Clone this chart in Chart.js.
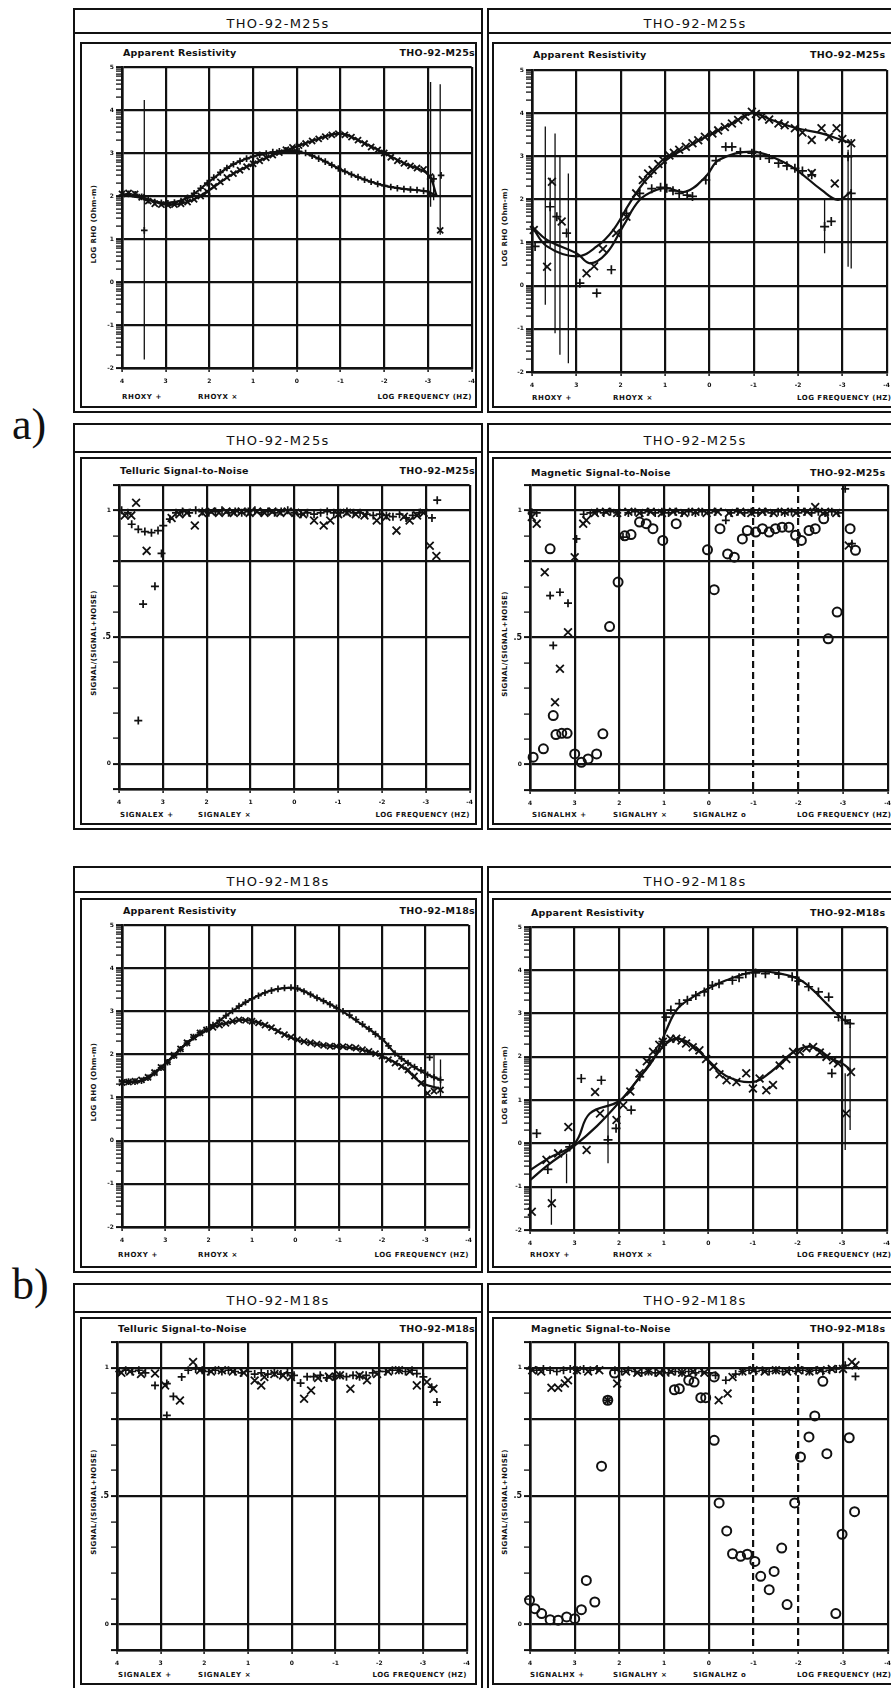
<!DOCTYPE html>
<html><head><meta charset="utf-8">
<script src="https://cdn.jsdelivr.net/npm/chart.js@4.4.1/dist/chart.umd.min.js"></script>
<style>
html,body{margin:0;padding:0;background:#fff;}
body{width:891px;height:1688px;overflow:hidden;position:relative;}
.bx{position:absolute;border:2px solid #111;box-sizing:border-box;}
.hl{position:absolute;height:2px;background:#111;}
.t{position:absolute;white-space:nowrap;color:#111;line-height:1;}
canvas{position:absolute;}
</style></head><body>
<script>
// ---------- tick values / labels ----------
const xTickVals = [4,3,2,1,0,-1,-2,-3,-4];
const rhoMajors = [-2,-1,0,1,2,3,4,5];
const rhoMinorOffsets = [0.301,0.477,0.602,0.699,0.778,0.845,0.903,0.954];
const snTickVals = [-0.1,0,0.1,0.2,0.3,0.4,0.5,0.6,0.7,0.8,0.9,1,1.1];
const snGrid = [-0.1,0,0.5,0.8,1,1.1];
const snLabels = [[1,'1'],[0.5,'.5'],[0,'0']];

// ---------- THO-92-M25s : apparent resistivity (left) ----------
const m25L_rhoxy = [[4.0,2.02],[3.85,2.05],[3.7,2.04],[3.55,1.98],[3.4,1.9],[3.25,1.86],[3.1,1.84],[2.95,1.83],[2.8,1.85],[2.65,1.88],[2.5,1.96],[2.35,2.06],[2.2,2.18],[2.05,2.3],[1.9,2.43],[1.75,2.55],[1.6,2.65],[1.45,2.74],[1.3,2.81],[1.15,2.87],[1.0,2.92],[0.85,2.96],[0.7,2.99],[0.55,3.02],[0.4,3.04],[0.25,3.06],[0.1,3.06],[-0.05,3.04],[-0.2,3.0],[-0.35,2.94],[-0.5,2.87],[-0.65,2.8],[-0.8,2.72],[-0.95,2.64],[-1.1,2.57],[-1.25,2.5],[-1.4,2.44],[-1.55,2.38],[-1.7,2.33],[-1.85,2.28],[-2.0,2.24],[-2.15,2.21],[-2.3,2.18],[-2.45,2.16],[-2.6,2.15],[-2.75,2.14],[-2.9,2.12],[-3.05,2.05],[-3.13,2.4],[-3.3,2.48],[3.49,1.2]];
const m25L_rhoyx = [[4.0,2.05],[3.85,2.07],[3.7,2.05],[3.55,1.97],[3.4,1.88],[3.25,1.82],[3.1,1.8],[2.95,1.79],[2.8,1.8],[2.65,1.82],[2.5,1.86],[2.35,1.92],[2.2,2.0],[2.05,2.1],[1.9,2.22],[1.75,2.33],[1.6,2.43],[1.45,2.52],[1.3,2.6],[1.15,2.68],[1.0,2.75],[0.85,2.82],[0.7,2.89],[0.55,2.95],[0.4,3.01],[0.25,3.08],[0.1,3.13],[-0.05,3.17],[-0.2,3.22],[-0.35,3.28],[-0.5,3.33],[-0.65,3.38],[-0.8,3.42],[-0.95,3.45],[-1.1,3.42],[-1.25,3.37],[-1.4,3.3],[-1.55,3.22],[-1.7,3.14],[-1.85,3.07],[-2.0,3.0],[-2.15,2.9],[-2.3,2.82],[-2.45,2.76],[-2.6,2.7],[-2.75,2.65],[-2.9,2.62],[-3.05,2.45],[-3.28,1.2]];
const m25L_modelxy = [[4,2.03],[3.5,1.95],[3.0,1.84],[2.5,1.96],[2.0,2.34],[1.5,2.71],[1.0,2.92],[0.5,3.02],[0.0,3.04],[-0.5,2.87],[-1.0,2.62],[-1.5,2.4],[-2.0,2.24],[-2.5,2.16],[-3.0,2.1],[-3.2,2.0]];
const m25L_modelyx = [[4,2.05],[3.5,1.95],[3.0,1.8],[2.5,1.86],[2.0,2.14],[1.5,2.49],[1.0,2.75],[0.5,2.97],[0.0,3.15],[-0.5,3.33],[-1.0,3.45],[-1.5,3.25],[-2.0,3.0],[-2.5,2.74],[-3.0,2.5],[-3.2,2.0]];
const m25L_err = [[3.49,-1.8,4.23],[-3.06,1.75,4.65],[-3.28,1.1,4.6],[-3.13,1.9,2.5]];

// ---------- THO-92-M25s : apparent resistivity (right) ----------
const m25R_rhoyx = [[3.96,1.29],[3.66,0.44],[3.55,2.41],[3.33,1.49],[2.77,0.29],[2.6,0.45],[2.4,0.85],[2.1,1.22],[1.87,1.6],[1.65,2.14],[1.5,2.45],[1.38,2.6],[1.28,2.68],[1.15,2.82],[1.05,2.92],[0.9,3.02],[0.8,3.08],[0.68,3.15],[0.53,3.22],[0.38,3.3],[0.25,3.37],[0.1,3.45],[-0.07,3.53],[-0.2,3.6],[-0.35,3.68],[-0.51,3.76],[-0.65,3.84],[-0.81,3.92],[-0.96,4.03],[-1.05,3.98],[-1.19,3.92],[-1.35,3.85],[-1.56,3.76],[-1.7,3.72],[-1.93,3.65],[-2.1,3.55],[-2.31,3.38],[-2.53,3.65],[-2.7,3.45],[-2.87,3.65],[-3.0,3.4],[-3.2,3.3],[-2.83,2.37],[-2.31,2.61]];
const m25R_rhoxy = [[3.93,0.91],[3.59,1.83],[3.44,1.6],[3.22,1.22],[2.92,0.06],[2.54,-0.17],[2.21,0.37],[1.87,1.68],[1.57,2.14],[1.3,2.25],[1.1,2.28],[0.96,2.26],[0.82,2.2],[0.68,2.14],[0.5,2.1],[0.38,2.07],[0.08,2.45],[-0.15,2.9],[-0.37,3.22],[-0.51,3.22],[-0.7,3.1],[-0.96,3.07],[-1.15,3.02],[-1.35,2.95],[-1.56,2.84],[-1.75,2.78],[-1.93,2.72],[-2.1,2.66],[-2.31,2.57],[-2.6,1.37],[-2.75,1.49],[-3.13,2.99],[-3.2,2.14]];
const m25R_modelyx = [[4,1.37],[3.66,0.91],[2.99,0.68],[2.54,0.91],[2.17,1.29],[1.8,1.91],[1.43,2.45],[0.96,2.92],[0.53,3.19],[0.01,3.49],[-0.51,3.76],[-0.96,4.0],[-1.41,3.84],[-1.97,3.65],[-2.53,3.53],[-2.98,3.38],[-3.2,3.3]];
const m25R_modelxy = [[4,1.37],[3.66,1.06],[2.99,0.75],[2.69,0.52],[2.32,0.75],[1.95,1.37],[1.57,1.99],[1.2,2.22],[0.96,2.26],[0.53,2.18],[0.08,2.53],[-0.22,2.92],[-0.96,3.11],[-1.56,2.92],[-1.97,2.68],[-2.53,2.22],[-2.9,1.99],[-3.2,2.18]];
const m25R_err = [[3.7,-0.44,3.69],[3.59,0.9,2.5],[3.48,-1.1,3.53],[3.37,-1.6,3.0],[3.18,-1.8,2.6],[3.0,-2.0,5.0],[-2.6,0.75,1.99],[-3.13,0.44,3.15],[-3.2,0.4,3.4]];

// ---------- THO-92-M25s : telluric signal-to-noise ----------
const m25_sigEx = [[3.94,1.0],[3.8,0.99],[3.71,0.945],[3.56,0.925],[3.41,0.916],[3.26,0.912],[3.11,0.92],[2.99,0.94],[2.84,0.965],[2.7,0.99],[2.55,0.995],[2.4,0.99],[2.25,1.0],[2.1,0.995],[1.95,0.99],[1.8,0.995],[1.65,1.0],[1.5,0.99],[1.35,0.995],[1.2,0.99],[1.05,0.995],[0.9,1.0],[0.75,0.99],[0.6,0.995],[0.45,0.99],[0.3,0.995],[0.15,1.0],[0.0,0.99],[-0.15,0.985],[-0.3,0.99],[-0.45,0.985],[-0.6,0.99],[-0.75,0.995],[-0.9,0.99],[-1.05,0.99],[-1.2,0.995],[-1.35,0.99],[-1.5,0.99],[-1.65,0.985],[-1.8,0.98],[-1.95,0.985],[-2.1,0.98],[-2.25,0.975],[-2.4,0.985],[-2.55,0.97],[-2.7,0.98],[-2.85,0.99],[-3.0,1.0],[-3.14,0.97],[-3.26,1.04],[3.03,0.83],[3.18,0.70],[3.45,0.63],[3.56,0.17]];
const m25_sigEy = [[3.87,0.98],[3.72,0.98],[3.61,1.03],[3.37,0.84],[2.8,0.97],[2.62,0.985],[2.45,0.99],[2.27,0.94],[2.1,0.99],[1.9,0.995],[1.72,0.99],[1.55,0.995],[1.38,0.99],[1.2,0.995],[1.02,0.99],[0.85,0.995],[0.68,0.99],[0.5,0.995],[0.32,0.99],[0.15,0.995],[-0.02,0.99],[-0.2,0.985],[-0.45,0.96],[-0.67,0.94],[-0.82,0.96],[-1.0,0.985],[-1.2,0.99],[-1.4,0.985],[-1.6,0.98],[-1.88,0.96],[-2.1,0.975],[-2.33,0.92],[-2.5,0.975],[-2.63,0.96],[-2.8,0.98],[-2.95,0.99],[-3.09,0.86],[-3.24,0.82]];

// ---------- THO-92-M25s : magnetic signal-to-noise ----------
const m25_sigHx = [[3.96,0.993],[3.85,0.99],[3.55,0.665],[3.33,0.678],[3.15,0.635],[3.48,0.469],[2.96,0.888],[2.8,0.985],[2.65,0.99],[2.5,0.995],[2.35,0.99],[2.2,0.995],[2.05,0.99],[1.92,0.895],[1.8,0.99],[1.65,0.995],[1.5,0.99],[1.35,0.995],[1.2,0.99],[1.05,0.995],[0.9,0.99],[0.75,0.995],[0.6,0.99],[0.45,0.995],[0.3,0.99],[0.15,0.995],[0.0,0.99],[-0.15,0.995],[-0.38,0.961],[-0.5,0.99],[-0.65,0.995],[-0.8,0.99],[-0.95,0.995],[-1.1,0.99],[-1.25,0.995],[-1.4,0.99],[-1.55,0.995],[-1.7,0.99],[-1.85,0.995],[-2.0,0.99],[-2.15,0.995],[-2.3,0.99],[-2.45,0.995],[-2.6,0.99],[-2.75,0.995],[-2.9,0.99],[-3.05,1.085],[-3.2,0.869]];
const m25_sigHy = [[3.96,0.974],[3.85,0.948],[3.67,0.757],[3.44,0.245],[3.33,0.377],[3.15,0.521],[3.0,0.816],[2.81,0.948],[2.74,0.961],[2.55,0.99],[2.3,0.995],[2.05,0.99],[1.8,0.995],[1.55,0.99],[1.3,0.995],[1.05,0.99],[0.8,0.995],[0.55,0.99],[0.3,0.995],[0.05,0.99],[-0.2,0.995],[-0.45,0.99],[-0.7,0.995],[-0.95,0.99],[-1.2,0.995],[-1.45,0.99],[-1.7,0.995],[-1.95,0.99],[-2.2,0.995],[-2.38,1.013],[-2.6,0.995],[-2.85,0.99],[-3.13,0.862]];
const m25_sigHz = [[3.55,0.849],[2.03,0.718],[2.22,0.543],[1.88,0.90],[1.74,0.905],[1.55,0.954],[1.40,0.948],[1.25,0.928],[1.03,0.882],[0.73,0.948],[0.03,0.845],[-0.12,0.688],[-0.25,0.928],[-0.42,0.829],[-0.57,0.816],[-0.75,0.888],[-0.86,0.921],[-1.05,0.915],[-1.2,0.928],[-1.35,0.915],[-1.49,0.928],[-1.64,0.934],[-1.79,0.934],[-1.94,0.902],[-2.07,0.882],[-2.24,0.921],[-2.38,0.928],[-2.57,0.967],[-2.67,0.495],[-2.87,0.6],[-3.16,0.928],[-3.28,0.843],[3.93,0.029],[3.70,0.062],[3.48,0.193],[3.42,0.118],[3.29,0.123],[3.17,0.123],[3.0,0.042],[2.85,0.009],[2.70,0.022],[2.51,0.042],[2.37,0.121]];

// ---------- THO-92-M18s : apparent resistivity (left) ----------
const m18L_rhoxy = [[4.0,1.37],[3.85,1.37],[3.7,1.37],[3.55,1.39],[3.4,1.46],[3.25,1.57],[3.1,1.69],[2.95,1.82],[2.8,1.97],[2.65,2.12],[2.5,2.26],[2.35,2.4],[2.2,2.5],[2.05,2.58],[1.9,2.68],[1.75,2.79],[1.6,2.9],[1.45,3.01],[1.3,3.12],[1.15,3.21],[1.0,3.29],[0.85,3.36],[0.7,3.43],[0.55,3.48],[0.4,3.52],[0.25,3.54],[0.1,3.55],[-0.05,3.53],[-0.2,3.46],[-0.35,3.39],[-0.5,3.31],[-0.65,3.24],[-0.8,3.16],[-0.95,3.08],[-1.1,3.0],[-1.25,2.91],[-1.4,2.81],[-1.55,2.7],[-1.7,2.59],[-1.85,2.47],[-2.0,2.36],[-2.15,2.2],[-2.3,2.02],[-2.45,1.9],[-2.6,1.8],[-2.75,1.71],[-2.9,1.63],[-3.05,1.53],[-3.2,1.47],[-3.35,1.41],[-3.1,1.93]];
const m18L_rhoyx = [[4.0,1.35],[3.85,1.36],[3.7,1.38],[3.55,1.41],[3.4,1.47],[3.25,1.58],[3.1,1.7],[2.95,1.83],[2.8,1.98],[2.65,2.13],[2.5,2.27],[2.35,2.4],[2.2,2.5],[2.05,2.57],[1.9,2.63],[1.75,2.68],[1.6,2.72],[1.45,2.77],[1.3,2.8],[1.15,2.79],[1.0,2.77],[0.85,2.73],[0.7,2.68],[0.55,2.62],[0.4,2.54],[0.25,2.46],[0.1,2.4],[-0.05,2.34],[-0.2,2.3],[-0.35,2.27],[-0.5,2.24],[-0.65,2.21],[-0.8,2.19],[-0.95,2.19],[-1.1,2.18],[-1.25,2.17],[-1.4,2.15],[-1.55,2.11],[-1.7,2.07],[-1.85,2.02],[-2.0,1.96],[-2.15,1.88],[-2.3,1.8],[-2.45,1.72],[-2.6,1.64],[-2.75,1.5],[-2.9,1.33],[-3.05,1.1],[-3.2,1.15],[-3.35,1.18]];
const m18L_modelxy = [[4,1.37],[3.5,1.4],[3.0,1.78],[2.5,2.26],[2.0,2.6],[1.5,2.97],[1.0,3.29],[0.5,3.5],[0.0,3.53],[-0.5,3.31],[-1.0,3.05],[-1.5,2.72],[-2.0,2.36],[-2.3,2.03],[-2.6,1.8],[-3.0,1.56],[-3.35,1.41]];
const m18L_modelyx = [[4,1.35],[3.5,1.42],[3.0,1.79],[2.5,2.27],[2.0,2.59],[1.5,2.75],[1.2,2.8],[0.8,2.72],[0.4,2.54],[0.0,2.35],[-0.5,2.24],[-1.0,2.18],[-1.5,2.12],[-2.0,1.96],[-2.5,1.7],[-2.9,1.35],[-3.35,1.2]];
const m18L_err = [[-3.2,1.18,1.99],[-3.35,1.03,1.88]];

// ---------- THO-92-M18s : apparent resistivity (right) ----------
const m18R_rhoxy = [[3.85,0.23],[3.6,-0.6],[3.11,-0.08],[2.85,1.5],[2.4,1.46],[2.25,0.08],[2.07,0.35],[1.73,0.77],[1.54,1.54],[1.32,1.92],[1.17,2.12],[1.02,2.35],[0.95,2.92],[0.84,3.08],[0.65,3.23],[0.47,3.31],[0.28,3.42],[0.09,3.5],[-0.09,3.65],[-0.24,3.69],[-0.54,3.77],[-0.69,3.83],[-0.84,3.92],[-1.06,3.94],[-1.28,3.92],[-1.58,3.91],[-1.88,3.85],[-2.03,3.75],[-2.25,3.62],[-2.47,3.5],[-2.7,3.38],[-2.92,2.92],[-3.07,2.85],[-3.18,2.77],[-2.77,1.62]];
const m18R_rhoyx = [[3.96,-1.58],[3.63,-0.38],[3.51,-1.38],[3.37,-0.23],[3.14,0.38],[2.73,-0.15],[2.54,1.19],[2.43,0.69],[2.06,0.54],[1.91,0.88],[1.75,1.2],[1.54,1.62],[1.38,1.9],[1.24,2.12],[1.1,2.28],[1.02,2.35],[0.85,2.42],[0.72,2.42],[0.6,2.38],[0.5,2.31],[0.35,2.22],[0.2,2.15],[0.05,1.95],[-0.11,1.77],[-0.25,1.6],[-0.41,1.46],[-0.63,1.42],[-0.85,1.62],[-1.0,1.27],[-1.15,1.5],[-1.3,1.23],[-1.45,1.35],[-1.6,1.8],[-1.75,1.95],[-1.9,2.12],[-2.05,2.12],[-2.2,2.2],[-2.35,2.23],[-2.5,2.1],[-2.65,2.0],[-2.8,1.92],[-2.91,1.85],[-3.09,0.69],[-3.2,1.65]];
const m18R_modelxy = [[4,-0.62],[3.6,-0.35],[3.0,0.0],[2.66,0.69],[2.0,0.98],[1.6,1.45],[1.2,2.0],[0.95,2.6],[0.7,3.1],[0.35,3.38],[0.0,3.58],[-0.4,3.77],[-1.0,3.96],[-1.4,3.96],[-2.0,3.81],[-2.35,3.54],[-2.65,3.23],[-3.0,2.88],[-3.2,2.77]];
const m18R_modelyx = [[4,-0.85],[3.6,-0.5],[3.0,-0.05],[2.5,0.4],[2.0,0.95],[1.6,1.45],[1.2,2.0],[0.95,2.3],[0.72,2.42],[0.4,2.3],[0.0,1.92],[-0.4,1.56],[-1.0,1.42],[-1.4,1.65],[-1.9,2.1],[-2.33,2.23],[-2.77,1.95],[-3.0,1.85],[-3.2,1.69]];
const m18R_err = [[-3.07,-0.15,1.62],[-3.18,0.31,2.69],[2.25,-0.46,1.0],[3.18,-0.92,-0.23],[3.52,-1.88,-1.04]];

// ---------- THO-92-M18s : telluric signal-to-noise ----------
const m18_sigEx = [[3.95,0.985],[3.8,0.99],[3.65,0.985],[3.5,0.99],[3.35,0.98],[3.13,0.931],[2.86,0.938],[2.71,0.888],[2.86,0.814],[2.52,0.964],[2.37,0.99],[2.2,0.995],[2.05,0.99],[1.9,0.985],[1.75,0.99],[1.6,0.985],[1.45,0.99],[1.3,0.985],[1.15,0.98],[1.0,0.985],[0.85,0.975],[0.7,0.98],[0.55,0.975],[0.4,0.98],[0.25,0.975],[0.1,0.98],[-0.05,0.97],[-0.2,0.94],[-0.35,0.965],[-0.5,0.965],[-0.65,0.97],[-0.8,0.96],[-0.95,0.965],[-1.1,0.97],[-1.25,0.965],[-1.4,0.97],[-1.55,0.965],[-1.7,0.97],[-1.85,0.98],[-2.0,0.985],[-2.15,0.985],[-2.3,0.99],[-2.45,0.99],[-2.6,0.985],[-2.75,0.99],[-2.86,0.977],[-3.01,0.964],[-3.2,0.924],[-3.32,0.866]];
const m18_sigEy = [[3.9,0.98],[3.7,0.985],[3.45,0.975],[3.13,0.977],[2.9,0.931],[2.56,0.872],[2.26,1.022],[2.1,0.99],[1.85,0.985],[1.6,0.99],[1.35,0.985],[1.1,0.98],[0.85,0.95],[0.7,0.931],[0.63,0.964],[0.4,0.975],[0.2,0.97],[0.02,0.964],[-0.28,0.879],[-0.44,0.911],[-0.6,0.96],[-0.85,0.965],[-1.1,0.97],[-1.34,0.918],[-1.55,0.97],[-1.72,0.951],[-1.95,0.975],[-2.2,0.985],[-2.45,0.99],[-2.7,0.985],[-2.86,0.931],[-3.09,0.944],[-3.24,0.918]];

// ---------- THO-92-M18s : magnetic signal-to-noise ----------
const m18_sigHx = [[4.0,0.995],[3.85,0.99],[3.7,0.995],[3.55,0.99],[3.4,0.985],[3.25,0.99],[3.1,0.995],[2.95,0.99],[2.8,0.995],[2.65,0.99],[2.5,0.995],[2.26,0.873],[2.1,0.99],[1.95,0.985],[1.8,0.99],[1.65,0.985],[1.5,0.98],[1.35,0.985],[1.2,0.98],[1.05,0.985],[0.9,0.98],[0.75,0.985],[0.6,0.98],[0.45,0.985],[0.3,0.98],[0.15,0.985],[0.0,0.98],[-0.15,0.97],[-0.38,0.951],[-0.6,0.975],[-0.75,0.985],[-0.9,0.99],[-1.05,0.985],[-1.2,0.99],[-1.35,0.985],[-1.5,0.99],[-1.65,0.985],[-1.8,0.99],[-1.95,0.985],[-2.1,0.99],[-2.25,0.985],[-2.4,0.99],[-2.55,0.985],[-2.7,0.99],[-2.85,0.995],[-3.05,1.009],[-3.28,0.966]];
const m18_sigHy = [[3.95,0.99],[3.75,0.985],[3.52,0.922],[3.37,0.922],[3.22,0.938],[3.15,0.951],[2.95,0.99],[2.7,0.985],[2.45,0.99],[2.26,0.873],[2.05,0.938],[1.85,0.985],[1.6,0.98],[1.35,0.985],[1.1,0.98],[0.85,0.985],[0.6,0.98],[0.35,0.985],[0.1,0.98],[-0.22,0.873],[-0.42,0.899],[-0.53,0.964],[-0.75,0.985],[-1.0,0.99],[-1.25,0.985],[-1.5,0.99],[-1.75,0.985],[-2.0,0.99],[-2.25,0.985],[-2.5,0.99],[-2.75,0.995],[-3.0,0.995],[-3.2,1.022],[-3.28,1.009]];
const m18_sigHz = [[4.01,0.094],[3.89,0.061],[3.74,0.042],[3.55,0.018],[3.37,0.016],[3.18,0.029],[3.0,0.022],[2.85,0.057],[2.74,0.171],[2.55,0.087],[2.4,0.616],[2.26,0.873],[2.11,0.979],[0.77,0.914],[0.66,0.918],[0.45,0.951],[0.33,0.944],[0.18,0.883],[0.07,0.883],[-0.12,0.964],[-0.12,0.717],[-0.23,0.473],[-0.4,0.364],[-0.53,0.275],[-0.71,0.265],[-0.86,0.273],[-1.03,0.245],[-1.16,0.187],[-1.35,0.135],[-1.46,0.206],[-1.63,0.297],[-1.75,0.077],[-1.92,0.473],[-2.05,0.652],[-2.24,0.73],[-2.37,0.812],[-2.55,0.947],[-2.64,0.665],[-2.84,0.042],[-2.98,0.351],[-3.14,0.727],[-3.26,0.439]];

// ---------- helpers ----------
const INK = '#111111';
const P = a => a.map(([x,y]) => ({x, y}));
const EB = a => a.flatMap(([x,lo,hi]) => [{x,y:lo},{x,y:hi},{x,y:null}]);
const plus = (d,r) => ({type:'scatter', data:P(d), pointStyle:'cross', pointRadius:r, borderColor:INK, borderWidth:1.7, backgroundColor:'rgba(0,0,0,0)'});
const cross = (d,r) => ({type:'scatter', data:P(d), pointStyle:'crossRot', pointRadius:r, borderColor:INK, borderWidth:1.8, backgroundColor:'rgba(0,0,0,0)'});
const ring = (d,r) => ({type:'scatter', data:P(d), pointStyle:'circle', pointRadius:r, borderColor:INK, borderWidth:2, backgroundColor:'rgba(0,0,0,0)'});
const model = d => ({type:'line', data:P(d), borderColor:INK, borderWidth:2.2, pointRadius:0, tension:0.4, fill:false});
const errs = d => ({type:'line', data:EB(d), borderColor:INK, borderWidth:1.3, pointRadius:0, spanGaps:false, fill:false});

const panels = [
 {outer:[73,8,483,413], bar:33, inner:[80,42,477,408], plot:[122,67,473,368], kind:'rho', st:'THO-92-M25s', head:'Apparent Resistivity', headY:52, side:'L', legY:397,
  leg:[['RHOXY +',122],['RHOYX \u00d7',198]],
  sets:[model(m25L_modelxy), model(m25L_modelyx), errs(m25L_err), plus(m25L_rhoxy,3.3), cross(m25L_rhoyx,4.3)]},
 {outer:[487,8,905,413], bar:33, inner:[492,42,899,408], plot:[532,70,888,372], kind:'rho', st:'THO-92-M25s', head:'Apparent Resistivity', headY:54, side:'R', legY:398,
  leg:[['RHOXY +',532],['RHOYX \u00d7',613]],
  sets:[model(m25R_modelxy), model(m25R_modelyx), errs(m25R_err), plus(m25R_rhoxy,4.5), cross(m25R_rhoyx,5.5)]},
 {outer:[73,423,483,830], bar:452, inner:[80,457,477,825], plot:[119,485,471,789], kind:'sn', st:'THO-92-M25s', head:'Telluric Signal-to-Noise', headY:470, side:'L', legY:815,
  leg:[['SIGNALEX +',120],['SIGNALEY \u00d7',198]],
  sets:[plus(m25_sigEx,4), cross(m25_sigEy,5.5)]},
 {outer:[487,423,905,830], bar:452, inner:[492,457,899,825], plot:[530,485,889,790], kind:'sn', st:'THO-92-M25s', head:'Magnetic Signal-to-Noise', headY:472, side:'R', legY:815, dashX:[-1,-2],
  leg:[['SIGNALHX +',532],['SIGNALHY \u00d7',613],['SIGNALHZ o',693]],
  sets:[ring(m25_sigHz,4.5), plus(m25_sigHx,4), cross(m25_sigHy,5.5)]},
 {outer:[73,866,483,1273], bar:892, inner:[80,898,477,1268], plot:[122,925,470,1227], kind:'rho', st:'THO-92-M18s', head:'Apparent Resistivity', headY:910, side:'L', legY:1255,
  leg:[['RHOXY +',118],['RHOYX \u00d7',198]],
  sets:[model(m18L_modelxy), model(m18L_modelyx), errs(m18L_err), plus(m18L_rhoxy,3.3), cross(m18L_rhoyx,4.3)]},
 {outer:[487,866,905,1273], bar:892, inner:[492,898,899,1268], plot:[530,927,888,1230], kind:'rho', st:'THO-92-M18s', head:'Apparent Resistivity', headY:912, side:'R', legY:1255,
  leg:[['RHOXY +',530],['RHOYX \u00d7',613]],
  sets:[model(m18R_modelxy), model(m18R_modelyx), errs(m18R_err), plus(m18R_rhoxy,4.5), cross(m18R_rhoyx,5.5)]},
 {outer:[73,1283,483,1694], bar:1312, inner:[80,1317,477,1685], plot:[117,1342,468,1650], kind:'sn', st:'THO-92-M18s', head:'Telluric Signal-to-Noise', headY:1328, side:'L', legY:1675,
  leg:[['SIGNALEX +',118],['SIGNALEY \u00d7',198]],
  sets:[plus(m18_sigEx,4), cross(m18_sigEy,5.5)]},
 {outer:[487,1283,905,1694], bar:1312, inner:[492,1317,899,1685], plot:[530,1342,889,1650], kind:'sn', st:'THO-92-M18s', head:'Magnetic Signal-to-Noise', headY:1328, side:'R', legY:1675, dashX:[-1,-2],
  leg:[['SIGNALHX +',530],['SIGNALHY \u00d7',613],['SIGNALHZ o',693]],
  sets:[ring(m18_sigHz,4.5), plus(m18_sigHx,4), cross(m18_sigHy,5.5)]}
];

// ---------- drawing ----------
function box([l,t,r,b]) {
  const d = document.createElement('div'); d.className = 'bx';
  Object.assign(d.style, {left:l+'px', top:t+'px', width:(r-l)+'px', height:(b-t)+'px'});
  document.body.appendChild(d);
}
function hline(l, r, y) {
  const d = document.createElement('div'); d.className = 'hl';
  Object.assign(d.style, {left:l+'px', top:(y-1)+'px', width:(r-l)+'px'});
  document.body.appendChild(d);
}
function txt(s, x, y, font, align, ls, rot) {
  const d = document.createElement('div'); d.className = 't';
  d.textContent = s;
  d.style.left = x + 'px'; d.style.top = y + 'px';
  d.style.font = font;
  if (ls) d.style.letterSpacing = ls;
  const tx = align === 'center' ? '-50%' : align === 'right' ? '-100%' : '0';
  d.style.transform = `translate(${tx},-50%)` + (rot ? ' rotate(-90deg)' : '');
  document.body.appendChild(d);
}
const near = (a, b) => Math.abs(a - b) < 1e-6;
const rhoTickVals = rhoMajors.concat(rhoMajors.slice(0, -1).flatMap(m => rhoMinorOffsets.map(o => m + o)));

const AXW = 34, PT = 8, PR = 8, AXH = 24;
Chart.defaults.font.family = 'DejaVu Sans';

panels.forEach(p => {
  box(p.outer); box(p.inner); hline(p.outer[0], p.outer[2], p.bar);
  const tcx = p.side === 'L' ? 278 : 695;
  txt(p.st, tcx, (p.outer[1] + p.bar) / 2 + 2, '13px "DejaVu Sans"', 'center', '1.3px');
  txt(p.head, p.plot[0] + 1, p.headY, 'bold 9.5px "DejaVu Sans"', 'left', '0.2px');
  if (p.side === 'L') txt(p.st, 475, p.headY, 'bold 9.5px "DejaVu Sans"', 'right', '0.3px');
  else txt(p.st, 810, p.headY, 'bold 9.5px "DejaVu Sans"', 'left', '0.3px');
  p.leg.forEach(([s, x]) => txt(s, x, p.legY, 'bold 7px "DejaVu Sans"', 'left', '0.6px'));
  if (p.side === 'L') txt('LOG FREQUENCY (HZ)', p.plot[2] - 1, p.legY, 'bold 7px "DejaVu Sans"', 'right', '0.5px');
  else txt('LOG FREQUENCY (HZ)', 797, p.legY, 'bold 7px "DejaVu Sans"', 'left', '0.5px');
  const ytx = p.side === 'L' ? 94 : 505;
  const ymid = (p.plot[1] + p.plot[3]) / 2 + 6;
  txt(p.kind === 'rho' ? 'LOG RHO (Ohm-m)' : 'SIGNAL/(SIGNAL+NOISE)', ytx, ymid, 'bold 7px "DejaVu Sans"', 'center', '0.4px', true);

  const [L, T, R, B] = p.plot;
  const W = R - L, H = B - T;
  const cv = document.createElement('canvas');
  const cw = W + AXW + PR, ch = H + PT + AXH;
  cv.width = cw; cv.height = ch;
  Object.assign(cv.style, {left:(L - AXW)+'px', top:(T - PT)+'px', width:cw+'px', height:ch+'px'});
  document.body.appendChild(cv);

  const isRho = p.kind === 'rho';
  const yVals = isRho ? rhoTickVals : snTickVals;
  const yGrid = v => isRho ? near(v, Math.round(v)) : snGrid.some(g => near(g, v));
  const yLab = v => {
    if (isRho) return near(v, Math.round(v)) ? String(Math.round(v)) : '';
    const f = snLabels.find(l => near(l[0], v)); return f ? f[1] : '';
  };

  new Chart(cv, {
    type: 'scatter',
    data: {datasets: p.sets.map(s => Object.assign({clip: false}, s))},
    options: {
      responsive: false, animation: false, devicePixelRatio: 1, events: [],
      layout: {padding: {left: 0, top: PT, right: PR, bottom: 0}, autoPadding: false},
      plugins: {legend: {display: false}, tooltip: {enabled: false}},
      scales: {
        x: {
          type: 'linear', reverse: true, min: -4, max: 4,
          afterFit: s => { s.height = AXH; },
          afterBuildTicks: s => { s.ticks = xTickVals.map(v => ({value: v})); },
          ticks: {autoSkip: false, maxRotation: 0, padding: 6, color: INK, font: {size: 6, weight: 'bold'}, callback: v => String(v)},
          grid: {color: INK, lineWidth: 2.2, tickLength: 4, tickColor: INK, tickWidth: 1.5},
          border: {display: true, color: INK, width: 2.6,
                   dash: c => (p.dashX && c.tick && p.dashX.some(d => near(d, c.tick.value))) ? [7, 4] : []}
        },
        y: {
          type: 'linear', min: isRho ? -2 : -0.1, max: isRho ? 5 : 1.1,
          afterFit: s => { s.width = AXW; },
          afterBuildTicks: s => { s.ticks = yVals.map(v => ({value: v})); },
          ticks: {autoSkip: false, padding: 2, color: INK, font: c => ({size: (!isRho && c.tick && near(c.tick.value, 0.5)) ? 8 : 6, weight: 'bold'}), callback: v => yLab(v)},
          grid: {color: c => (c.tick && yGrid(c.tick.value)) ? INK : 'rgba(0,0,0,0)', lineWidth: 2.2, tickLength: 6, tickColor: INK,
                 tickWidth: c => (c.tick && yGrid(c.tick.value)) ? 2 : 1.3},
          border: {display: true, color: INK, width: 2.6}
        }
      }
    }
  });
});

txt('a)', 12, 424, '44px "Liberation Serif"', 'left');
txt('b)', 12, 1284, '44px "Liberation Serif"', 'left');
</script>
</body></html>
